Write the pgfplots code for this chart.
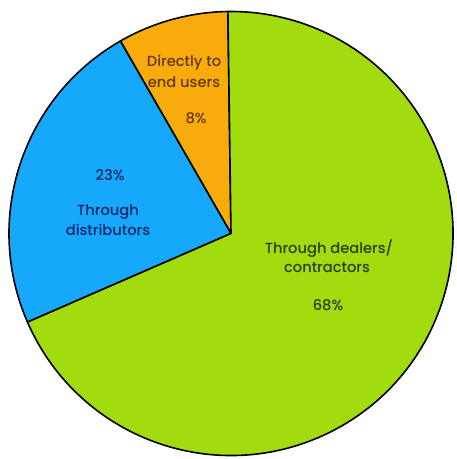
\documentclass[border=0pt]{standalone}
\usepackage{pgfplots}
\pgfplotsset{compat=1.18}
\usepackage{pgfplotstable}
\usepackage{fontspec}
\setmainfont{Poppins}[UprightFont=* Medium]
\definecolor{sliceorange}{RGB}{248,172,12}
\definecolor{sliceblue}{RGB}{22,168,250}
\definecolor{slicegreen}{RGB}{162,220,14}
\definecolor{txtorange}{RGB}{100,55,15}
\definecolor{txtblue}{RGB}{15,40,105}
\definecolor{txtgreen}{RGB}{35,65,15}

\pgfplotstableread{
share
8
23
68
}\piedata

\begin{document}
\begin{tikzpicture}
\pgfplotstablegetelem{0}{share}\of\piedata \let\va\pgfplotsretval
\pgfplotstablegetelem{1}{share}\of\piedata \let\vb\pgfplotsretval
\pgfplotstablegetelem{2}{share}\of\piedata \let\vc\pgfplotsretval
\pgfmathsetmacro\tot{\va+\vb+\vc}
\pgfmathsetmacro\aS{90.8}
\pgfmathsetmacro\aA{\aS+360*\va/\tot}
\pgfmathsetmacro\aB{\aA+360*\vb/\tot}
\pgfmathsetmacro\aC{\aS+360}
\begin{axis}[hide axis, scale only axis, width=342pt, height=344.25pt,
  xmin=-231, xmax=225, ymin=-225.5, ymax=233.5, clip=false]
\fill[sliceorange, draw=black, line width=1.2pt, line join=round] (0,0) -- ({222*cos(\aS)},{222*sin(\aS)}) arc[start angle=\aS, end angle=\aA, radius=166.5pt] -- cycle;
\fill[sliceblue, draw=black, line width=1.2pt, line join=round] (0,0) -- ({222*cos(\aA)},{222*sin(\aA)}) arc[start angle=\aA, end angle=\aB, radius=166.5pt] -- cycle;
\fill[slicegreen, draw=black, line width=1.2pt, line join=round] (0,0) -- ({222*cos(\aB)},{222*sin(\aB)}) arc[start angle=\aB, end angle=\aC, radius=166.5pt] -- cycle;
\begin{scope}[every node/.style={font=\fontsize{11}{13}\selectfont, align=center, inner sep=0pt}]
\node[txtorange] at (-47,170.5) {Directly to};
\node[txtorange] at (-47,151.5) {end users};
\node[txtorange] at (-35,115.5) {8\%};
\node[txtblue] at (-121,58.5) {23\%};
\node[txtblue] at (-123,21.5) {Through};
\node[txtblue] at (-123,3.5) {distributors};
\node[txtgreen] at (98,-15.5) {Through dealers/};
\node[txtgreen] at (96,-34.5) {contractors};
\node[txtgreen] at (97,-71.5) {68\%};
\end{scope}
\end{axis}
\pgfresetboundingbox
\path (current axis.south west) rectangle (current axis.north east);
\end{tikzpicture}
\end{document}
